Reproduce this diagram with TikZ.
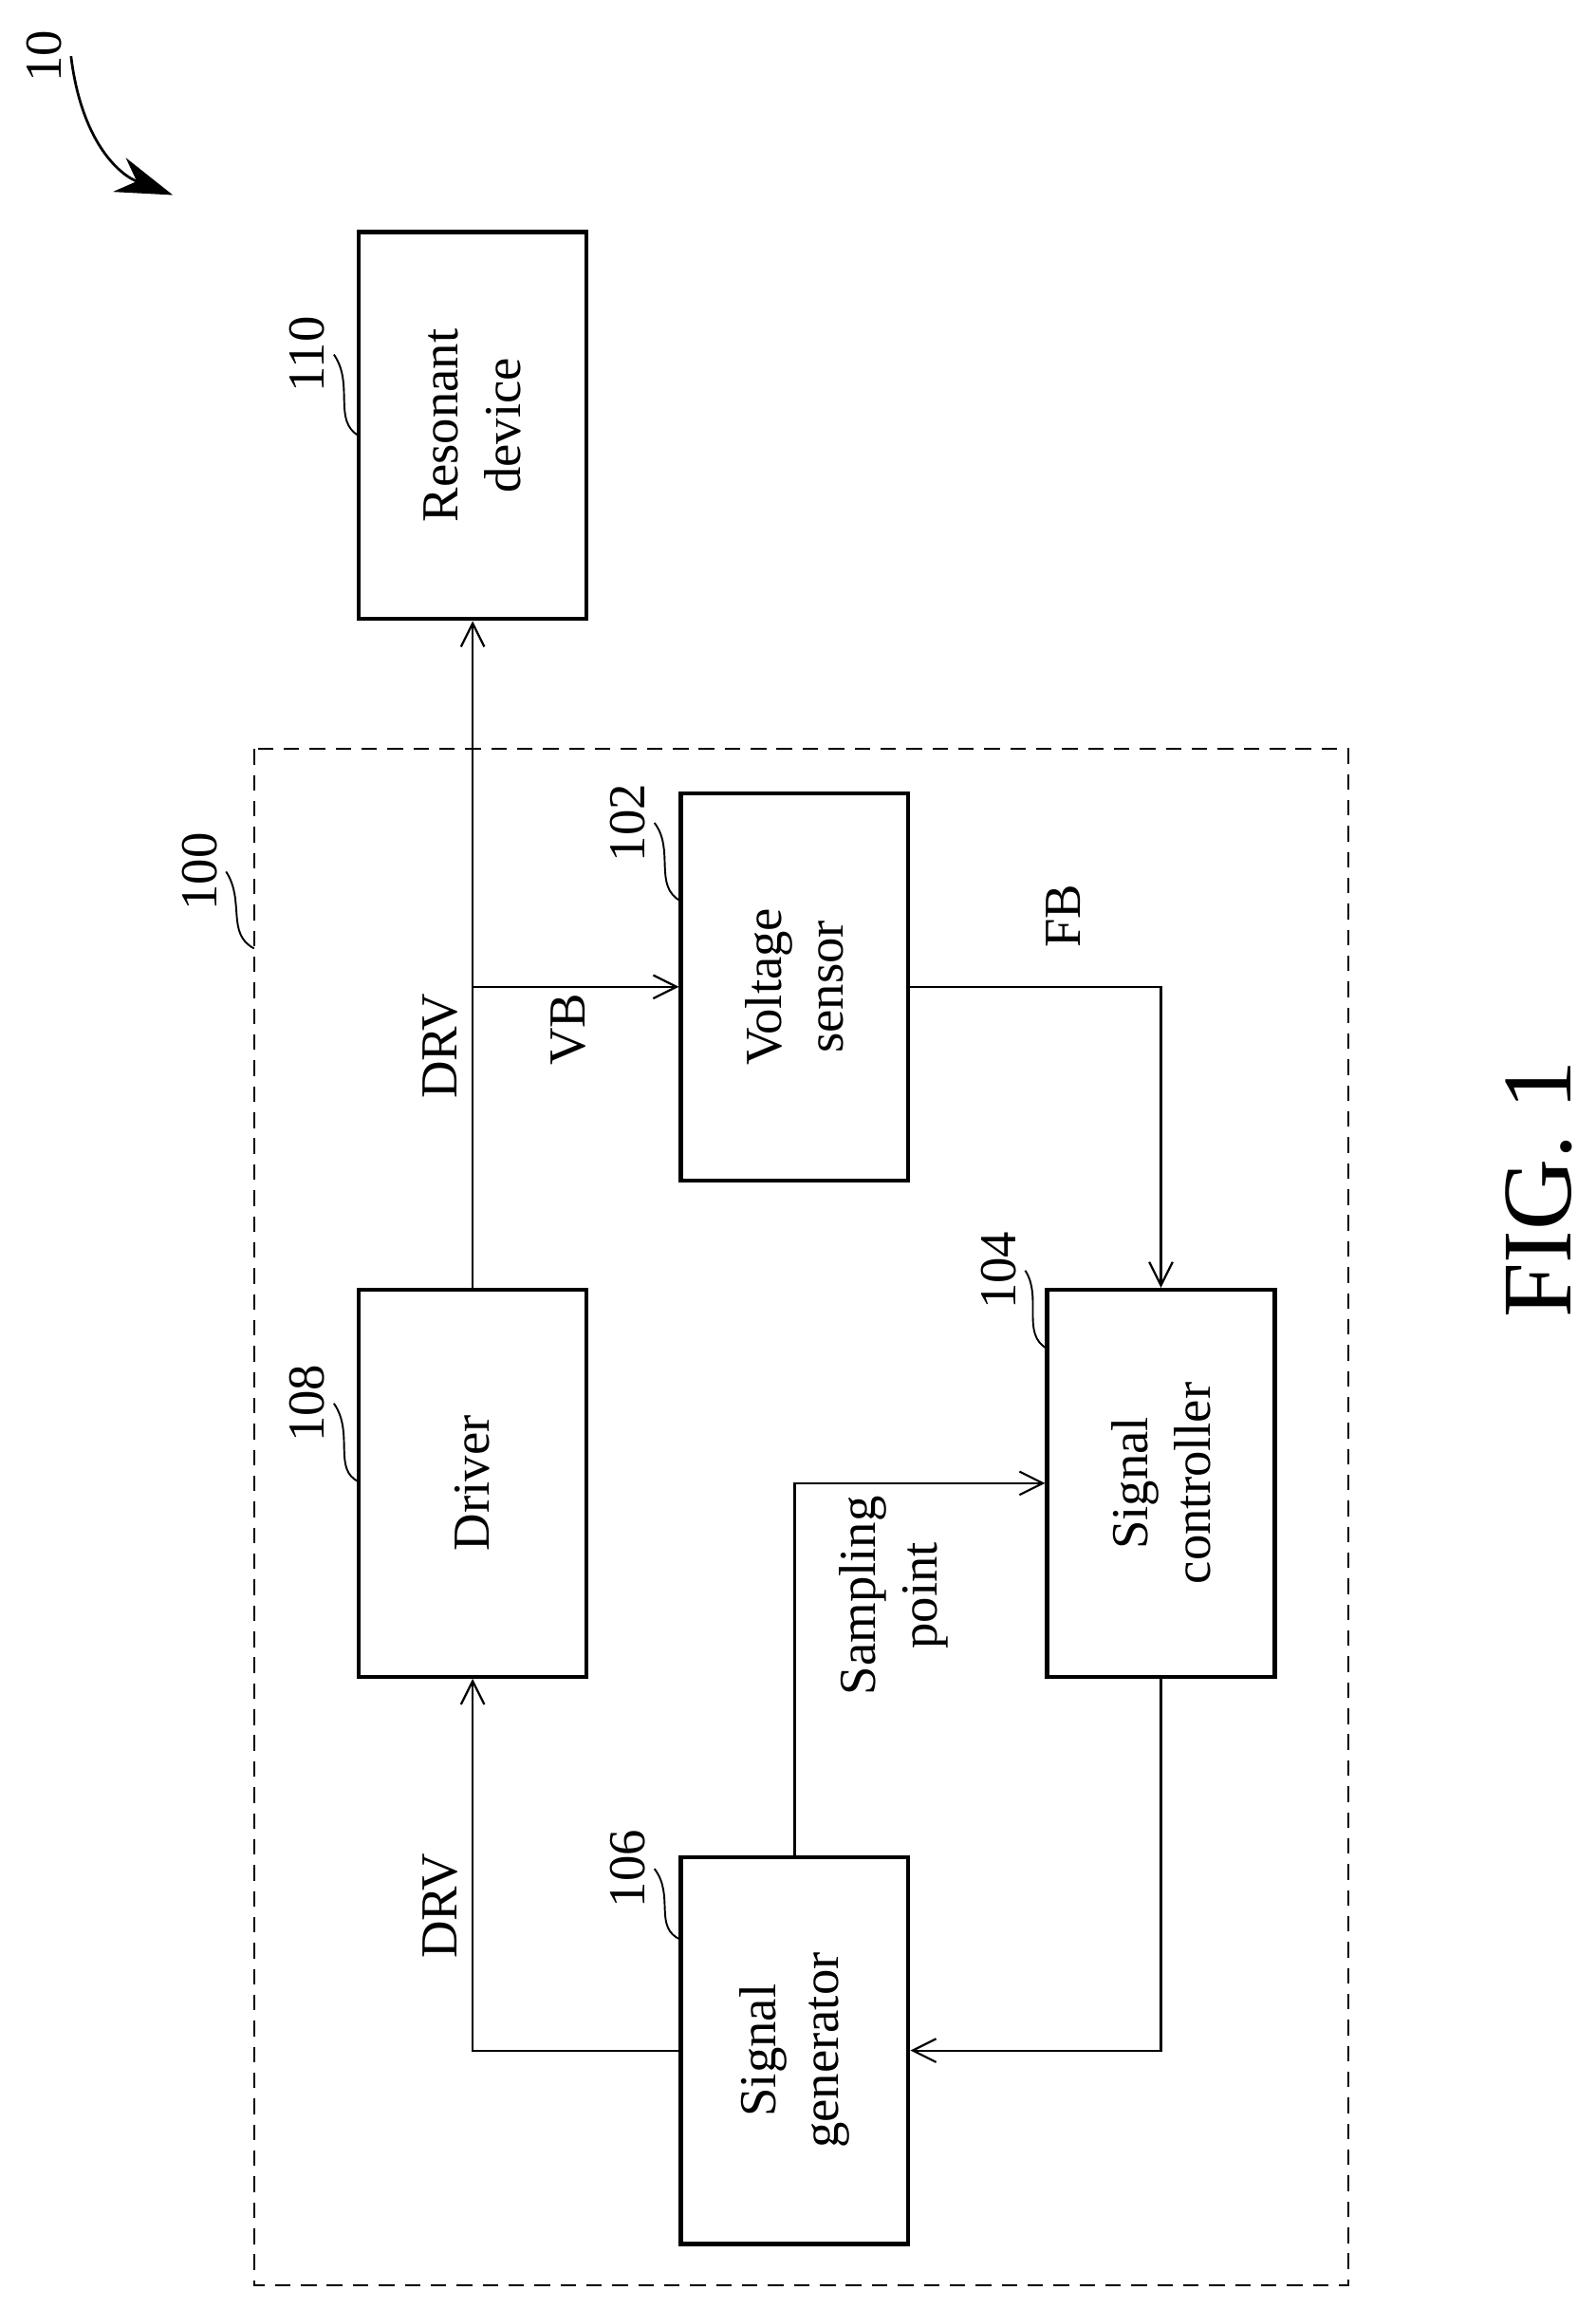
\documentclass[tikz,border=0pt]{standalone}
\usepackage{fontspec}
\setmainfont{Liberation Serif}
\usetikzlibrary{arrows.meta}
\tikzset{
  box/.style={draw=black,line width=1.6pt,minimum width=3.08cm,minimum height=5.24cm,inner sep=0pt},
  txt/.style={rotate=90,align=center,font=\fontsize{20}{24}\selectfont},
  lbl/.style={rotate=90,font=\fontsize{20}{24}\selectfont},
  conn/.style={line width=0.8pt,-{Straight Barb[length=9pt,width=9pt]}},
  lead/.style={line width=0.7pt}
}
\begin{document}
\begin{tikzpicture}[x=0.02cm,y=-0.02cm]
\useasboundingbox (0,0) rectangle (1080,1563);
%frame
\draw[line width=0.8pt,dash pattern=on 6pt off 4pt] (172,507) rectangle (913,1547);
%blocks
\node[box] (res) at (320,288) {};
\node[box] (vs) at (538,668) {};
\node[box] (drv) at (320,1004) {};
\node[box] (ctl) at (786,1004) {};
\node[box] (gen) at (538,1388) {};
\node[txt] (tres) at (res) {Resonant\\device};
\node[txt] (tvs) at (vs) {Voltage\\sensor};
\node[txt] (tdrv) at (drv) {Driver};
\node[txt] (tctl) at (ctl) {Signal\\controller};
\node[txt] (tgen) at (gen) {Signal\\generator};
%connectors
\draw[conn] (drv.north) -- (res.south);
\draw[conn] (drv.north |- vs.west) -- (vs.west);
\draw[conn] (vs.east) -| (ctl.north);
\draw[conn] (ctl.south) |- (gen.east);
\draw[conn] (gen.west) -| (drv.south);
\draw[conn] (gen.north) |- (ctl.west);
%signal labels
\node[lbl] (ldrv1) at (298,708) {DRV};
\node[lbl] (lvb) at (385,697) {VB};
\node[lbl] (lfb) at (720,620) {FB};
\node[txt] (lsp) at (605,1080) {Sampling\\point};
\node[lbl] (ldrv2) at (298,1290) {DRV};
%reference numbers
\node[lbl] (n110) at (208,240) {110};
\node[lbl] (n102) at (425,557) {102};
\node[lbl] (n108) at (208,950) {108};
\node[lbl] (n104) at (676,860) {104};
\node[lbl] (n106) at (425,1265) {106};
\node[lbl] (n100) at (135,590) {100};
\node[lbl] (n10) at (30,38) {10};
\draw[lead] (n110.south) .. controls (240,260) and (225,285) .. (243,295);
\draw[lead] (n102.south) .. controls (457,575) and (442,600) .. (461,610);
\draw[lead] (n108.south) .. controls (240,970) and (225,995) .. (243,1003);
\draw[lead] (n104.south) .. controls (706,878) and (691,903) .. (709,913);
\draw[lead] (n106.south) .. controls (457,1283) and (442,1305) .. (461,1313);
\draw[lead] (n100.south) .. controls (166,610) and (153,632) .. (172,642);
\draw[line width=1pt,-{Stealth[length=22pt,width=14pt]}] (n10.south) .. controls (55,95) and (80,118) .. (117,132);
\node[rotate=90,font=\fontsize{38}{44}\selectfont] (fig) at (1042,805) {FIG. 1};
\end{tikzpicture}
\end{document}
